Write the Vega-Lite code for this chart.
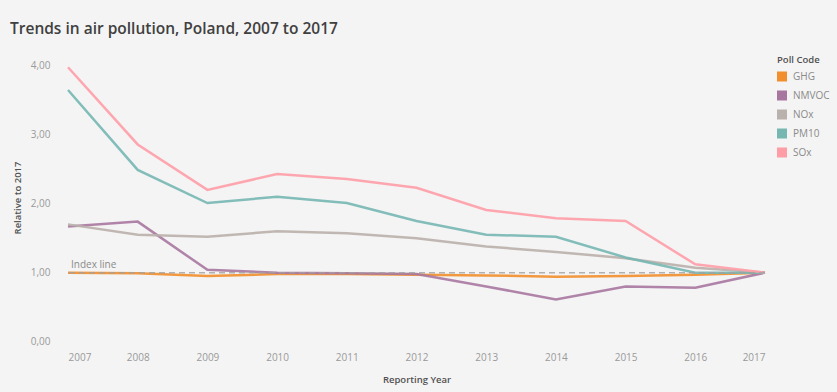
{
  "$schema": "https://vega.github.io/schema/vega-lite/v6.json",
  "width": 697,
  "height": 295,
  "autosize": {"type": "none"},
  "padding": {"left": 68, "top": 50, "right": 72, "bottom": 47},
  "background": "#f4f4f4",
  "title": {
    "text": "Trends in air pollution, Poland, 2007 to 2017",
    "anchor": "start",
    "frame": "group",
    "dx": -58,
    "offset": 13,
    "font": "Open Sans",
    "fontSize": 15.5,
    "fontWeight": 600,
    "color": "#404040"
  },
  "config": {
    "view": {"stroke": null},
    "font": "Open Sans"
  },
  "datasets": {
    "series": [
      {"year": 2007, "code": "GHG", "value": 1.0},
      {"year": 2008, "code": "GHG", "value": 0.99},
      {"year": 2009, "code": "GHG", "value": 0.95},
      {"year": 2010, "code": "GHG", "value": 0.98},
      {"year": 2011, "code": "GHG", "value": 0.98},
      {"year": 2012, "code": "GHG", "value": 0.97},
      {"year": 2013, "code": "GHG", "value": 0.96},
      {"year": 2014, "code": "GHG", "value": 0.94},
      {"year": 2015, "code": "GHG", "value": 0.95},
      {"year": 2016, "code": "GHG", "value": 0.97},
      {"year": 2017, "code": "GHG", "value": 1.0},
      {"year": 2007, "code": "NMVOC", "value": 1.67},
      {"year": 2008, "code": "NMVOC", "value": 1.74},
      {"year": 2009, "code": "NMVOC", "value": 1.04},
      {"year": 2010, "code": "NMVOC", "value": 1.0},
      {"year": 2011, "code": "NMVOC", "value": 0.99},
      {"year": 2012, "code": "NMVOC", "value": 0.98},
      {"year": 2013, "code": "NMVOC", "value": 0.8},
      {"year": 2014, "code": "NMVOC", "value": 0.61},
      {"year": 2015, "code": "NMVOC", "value": 0.8},
      {"year": 2016, "code": "NMVOC", "value": 0.78},
      {"year": 2017, "code": "NMVOC", "value": 1.0},
      {"year": 2007, "code": "NOx", "value": 1.7},
      {"year": 2008, "code": "NOx", "value": 1.55},
      {"year": 2009, "code": "NOx", "value": 1.52},
      {"year": 2010, "code": "NOx", "value": 1.6},
      {"year": 2011, "code": "NOx", "value": 1.57},
      {"year": 2012, "code": "NOx", "value": 1.5},
      {"year": 2013, "code": "NOx", "value": 1.38},
      {"year": 2014, "code": "NOx", "value": 1.3},
      {"year": 2015, "code": "NOx", "value": 1.21},
      {"year": 2016, "code": "NOx", "value": 1.07},
      {"year": 2017, "code": "NOx", "value": 1.0},
      {"year": 2007, "code": "PM10", "value": 3.65},
      {"year": 2008, "code": "PM10", "value": 2.49},
      {"year": 2009, "code": "PM10", "value": 2.01},
      {"year": 2010, "code": "PM10", "value": 2.1},
      {"year": 2011, "code": "PM10", "value": 2.01},
      {"year": 2012, "code": "PM10", "value": 1.75},
      {"year": 2013, "code": "PM10", "value": 1.55},
      {"year": 2014, "code": "PM10", "value": 1.52},
      {"year": 2015, "code": "PM10", "value": 1.22},
      {"year": 2016, "code": "PM10", "value": 1.0},
      {"year": 2017, "code": "PM10", "value": 1.0},
      {"year": 2007, "code": "SOx", "value": 3.98},
      {"year": 2008, "code": "SOx", "value": 2.86},
      {"year": 2009, "code": "SOx", "value": 2.2},
      {"year": 2010, "code": "SOx", "value": 2.43},
      {"year": 2011, "code": "SOx", "value": 2.36},
      {"year": 2012, "code": "SOx", "value": 2.23},
      {"year": 2013, "code": "SOx", "value": 1.91},
      {"year": 2014, "code": "SOx", "value": 1.79},
      {"year": 2015, "code": "SOx", "value": 1.75},
      {"year": 2016, "code": "SOx", "value": 1.12},
      {"year": 2017, "code": "SOx", "value": 1.0}
    ],
    "index": [{"year": 2007, "value": 1.0, "label": "Index line"}]
  },
  "layer": [
    {
      "data": {"name": "series"},
      "mark": {"type": "line", "strokeWidth": 2.5, "opacity": 0.9},
      "encoding": {
        "x": {
          "field": "year",
          "type": "quantitative",
          "scale": {"domain": [2007, 2017], "nice": false, "zero": false},
          "axis": {
            "title": "Reporting Year",
            "values": [2007, 2008, 2009, 2010, 2011, 2012, 2013, 2014, 2015, 2016, 2017],
            "format": "d",
            "labelFlush": true,
            "labelPadding": 7,
            "domain": false,
            "ticks": false,
            "grid": false,
            "labelColor": "#9a9a9a",
            "labelFontSize": 10,
            "titleColor": "#505050",
            "titleFontSize": 9.5,
            "titleFontWeight": 600,
            "titlePadding": 12
          }
        },
        "y": {
          "field": "value",
          "type": "quantitative",
          "scale": {"domain": [-0.05, 4.23], "nice": false, "zero": false},
          "axis": {
            "title": "Relative to 2017",
            "values": [0, 1, 2, 3, 4],
            "labelExpr": "replace(format(datum.value, '.2f'), '.', ',')",
            "domain": false,
            "ticks": false,
            "grid": false,
            "labelPadding": 18,
            "labelColor": "#9a9a9a",
            "labelFontSize": 10,
            "titleColor": "#505050",
            "titleFontSize": 9.5,
            "titleFontWeight": 600,
            "titlePadding": 8
          }
        },
        "color": {
          "field": "code",
          "type": "nominal",
          "scale": {
            "domain": ["GHG", "NMVOC", "NOx", "PM10", "SOx"],
            "range": ["#f28e2b", "#a877a0", "#bab0ac", "#76b7b2", "#ff9da7"]
          },
          "legend": {
            "title": "Poll Code",
            "orient": "none",
            "legendX": 709,
            "legendY": 5,
            "symbolType": "square",
            "symbolSize": 100,
            "symbolStrokeWidth": 0,
            "symbolOpacity": 1,
            "labelColor": "#8a8a8a",
            "labelFontSize": 10,
            "labelOffset": 6,
            "titleColor": "#505050",
            "titleFontSize": 9.5,
            "titleFontWeight": 600,
            "rowPadding": 9,
            "titlePadding": 7,
            "encode": {
              "symbols": {
                "update": {
                  "fill": {"scale": "color", "field": "value"},
                  "fillOpacity": {"value": 1},
                  "strokeWidth": {"value": 0}
                }
              }
            }
          }
        }
      }
    },
    {
      "data": {"name": "index"},
      "mark": {"type": "rule", "strokeDash": [6, 4], "color": "#a0a0a0", "strokeWidth": 1.5, "opacity": 0.8},
      "encoding": {
        "y": {"field": "value", "type": "quantitative"}
      }
    },
    {
      "data": {"name": "index"},
      "mark": {"type": "text", "align": "left", "baseline": "bottom", "dx": 3, "dy": -3, "fontSize": 10, "color": "#8a8a8a"},
      "encoding": {
        "x": {"field": "year", "type": "quantitative"},
        "y": {"field": "value", "type": "quantitative"},
        "text": {"field": "label"}
      }
    }
  ]
}
